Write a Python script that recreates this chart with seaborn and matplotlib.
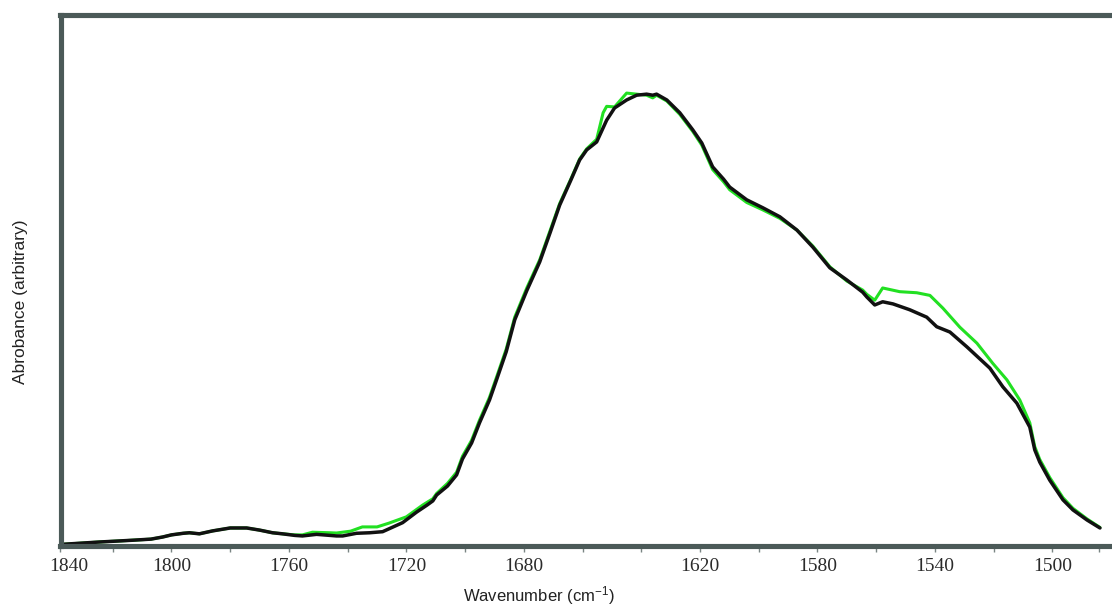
import numpy as np
import pandas as pd
import matplotlib
matplotlib.use("Agg")
import matplotlib.pyplot as plt
from matplotlib.transforms import ScaledTranslation
import seaborn as sns

# Amide I / II region, reference spectrum (black)
black_wn = [1837.8, 1832, 1824.5, 1818, 1813, 1807, 1803, 1800, 1796, 1793.9,
            1790.5, 1786, 1780, 1774.4, 1770, 1765.6, 1762.2, 1758, 1755.4, 1750.6,
            1746, 1743.8, 1741.7, 1737, 1732.5, 1728.1, 1725.7, 1721.3, 1716.5, 1713,
            1711, 1709.7, 1706, 1702.9, 1700.9, 1697.8, 1695.1, 1691.7, 1689.3, 1686,
            1683.1, 1679, 1674.6, 1671, 1667.8, 1664, 1661, 1658.6, 1655.2, 1651.8,
            1649.1, 1645, 1641.6, 1638.2, 1636.1, 1634.8, 1631.3, 1626.9, 1622.5, 1619.4,
            1615.7, 1612, 1609.9, 1604.1, 1598.6, 1592.8, 1587, 1581.6, 1575.8, 1570,
            1564.6, 1563.2, 1560.5, 1557.8, 1554.3, 1548.6, 1542.8, 1539.4, 1534.9, 1529.1,
            1521.3, 1516.9, 1512.1, 1507.7, 1506, 1504.3, 1500.9, 1496.4, 1493, 1488.2,
            1483.8]
black_abs = [0.2, 0.4, 0.66, 0.85, 1.0, 1.2, 1.6, 2.0, 2.3, 2.4,
             2.2, 2.75, 3.3, 3.3, 2.9, 2.4, 2.2, 1.9, 1.8, 2.1,
             1.9, 1.8, 1.8, 2.3, 2.4, 2.6, 3.2, 4.3, 6.3, 7.6,
             8.4, 9.5, 11.2, 13.3, 16.3, 19.3, 23.1, 27.4, 31.2, 36.5,
             42.5, 48.0, 53.4, 59.0, 64.1, 68.8, 72.6, 74.5, 76.0, 80.1,
             82.4, 83.9, 84.8, 85.0, 84.8, 85.0, 83.9, 81.5, 78.3, 75.8,
             71.3, 69.0, 67.5, 65.1, 63.6, 61.9, 59.4, 56.2, 52.3, 50.0,
             47.7, 46.8, 45.3, 45.9, 45.5, 44.4, 43.0, 41.2, 40.2, 37.4,
             33.4, 29.9, 26.8, 22.3, 18.0, 15.7, 12.3, 8.6, 6.7, 4.8,
             3.3]

# Sample spectrum (green)
green_wn = [1837.8, 1832, 1824.5, 1818, 1813, 1807, 1803, 1800, 1796, 1793.9,
            1790.5, 1786, 1780, 1774.4, 1770, 1765.6, 1762.2, 1758, 1755.4, 1752,
            1746, 1743.8, 1739, 1735, 1730, 1726, 1720, 1714.5, 1711, 1709.7,
            1706, 1702.9, 1700.9, 1697.8, 1695.1, 1691.7, 1689.3, 1686, 1683.1, 1679,
            1674.6, 1671, 1667.8, 1664, 1661, 1658.6, 1655.2, 1653, 1651.8, 1649.1,
            1645, 1641.6, 1638.2, 1636.1, 1634.8, 1631.3, 1626.9, 1622.5, 1619.4, 1615.7,
            1612, 1609.9, 1604.1, 1598.6, 1592.8, 1587, 1581.6, 1575.8, 1570, 1564.6,
            1563.2, 1560.5, 1557.8, 1552, 1546.2, 1541.7, 1537.3, 1531.5, 1525.7, 1520.3,
            1515.5, 1511.1, 1507.7, 1506, 1504.3, 1500.9, 1496.4, 1493, 1488.2, 1483.8]
green_abs = [0.2, 0.4, 0.66, 0.85, 1.0, 1.2, 1.6, 2.0, 2.3, 2.4,
             2.2, 2.75, 3.3, 3.3, 2.9, 2.4, 2.2, 2.0, 2.0, 2.5,
             2.4, 2.35, 2.7, 3.5, 3.5, 4.2, 5.4, 7.6, 8.8, 9.8,
             11.7, 13.8, 16.8, 19.8, 23.6, 27.9, 31.7, 37.0, 43.0, 48.5,
             53.8, 59.4, 64.4, 69.0, 72.8, 74.7, 76.5, 81.5, 82.7, 82.6,
             85.2, 85.0, 84.8, 84.3, 84.8, 83.7, 81.2, 78.0, 75.4, 70.8,
             68.5, 67.0, 64.6, 63.2, 61.6, 59.4, 56.4, 52.5, 49.8, 48.1,
             47.3, 46.2, 48.5, 47.8, 47.6, 47.1, 44.7, 41.1, 38.1, 34.3,
             31.2, 27.4, 23.1, 18.6, 16.2, 12.8, 9.0, 7.0, 5.0, 3.4]

x_tick_pos = [1837.8, 1800, 1760, 1720, 1680, 1620, 1580, 1540, 1500]
x_tick_labels = ["1840", "1800", "1760", "1720", "1680", "1620", "1580", "1540", "1500"]
x_minor_pos = [1820, 1780, 1740, 1700, 1660, 1640, 1600, 1560, 1520, 1484]

frame_color = "#4b5a58"

sns.set_style("white")
plt.rcParams["font.family"] = ["Liberation Sans", "DejaVu Sans"]
plt.rcParams["mathtext.fontset"] = "custom"
plt.rcParams["mathtext.rm"] = "Liberation Sans"
plt.rcParams["mathtext.it"] = "Liberation Sans:italic"

fig = plt.figure(figsize=(11.12, 6.07), dpi=100)
ax = fig.add_axes([60.5 / 1112, 1 - 545.5 / 607, (1112 - 60.5) / 1112, 531 / 607])

green_df = pd.DataFrame({"wavenumber": green_wn, "absorbance": green_abs})
black_df = pd.DataFrame({"wavenumber": black_wn, "absorbance": black_abs})

sns.lineplot(data=green_df, x="wavenumber", y="absorbance", sort=False, estimator=None,
             color="#22e022", linewidth=2.2, ax=ax, solid_joinstyle="round",
             solid_capstyle="round")
sns.lineplot(data=black_df, x="wavenumber", y="absorbance", sort=False, estimator=None,
             color="#111111", linewidth=2.5, ax=ax, solid_joinstyle="round",
             solid_capstyle="round")

ax.set_xlim(1837.8, 1479.7)
ax.set_ylim(0, 100)

# frame: thick grey left, top and bottom edges, open on the right
for side in ("left", "top", "bottom"):
    ax.spines[side].set_visible(True)
    ax.spines[side].set_color(frame_color)
    ax.spines[side].set_linewidth(3.7)
ax.spines["right"].set_visible(False)

ax.set_yticks([])
ax.set_xticks(x_tick_pos)
ax.set_xticklabels(x_tick_labels, family=["Liberation Serif", "DejaVu Serif"],
                   fontsize=14, color="#2b2b2b")
ax.set_xticks(x_minor_pos, minor=True)
ax.tick_params(axis="x", which="both", direction="out", length=4.2, width=1.0,
               color="#7a8584", pad=5, bottom=True)

# the edge label sits a little right of its tick
first = ax.get_xticklabels()[0]
first.set_transform(first.get_transform() + ScaledTranslation(8 / 100, 0, fig.dpi_scale_trans))

ax.set_xlabel(r"Wavenumber (cm$^{\mathrm{-1}}$)", fontsize=12, color="#222222")
ax.xaxis.set_label_coords((539 - 60.5) / 1051.5, (545.5 - 584) / 531)
ax.set_ylabel("Abrobance (arbitrary)", fontsize=12.5, color="#222222")
ax.yaxis.set_label_coords((28 - 60.5) / 1051.5, (545.5 - 302) / 531)

fig.savefig("out.png", dpi=100, facecolor="white")
